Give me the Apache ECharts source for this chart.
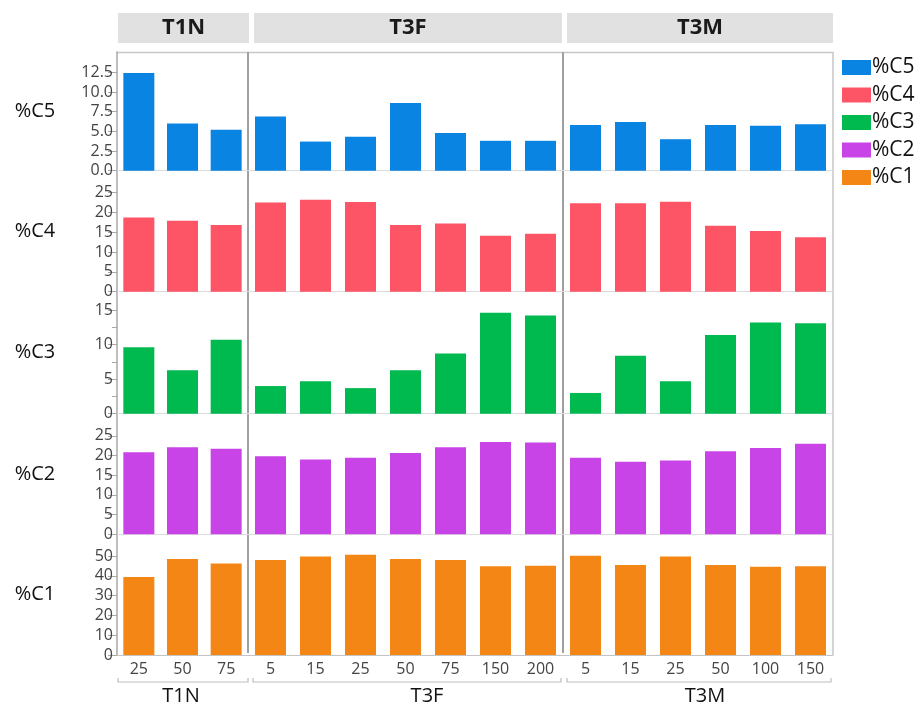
<!DOCTYPE html>
<html>
<head>
<meta charset="utf-8">
<script src="https://cdn.jsdelivr.net/npm/echarts@6/dist/echarts.min.js"></script>
<style>
  html, body { margin: 0; padding: 0; background: #fff; }
  #chart { width: 917px; height: 704px; }
</style>
</head>
<body>
<div id="chart"></div>
<script>
// Groups (panels) and the dose levels inside each one
const groups = ['T1N', 'T3F', 'T3M'];
const dosesT1N = ['25', '50', '75'];
const dosesT3F = ['5', '15', '25', '50', '75', '150', '200'];
const dosesT3M = ['5', '15', '25', '50', '100', '150'];

// Fractions, top row to bottom row
const fractions = ['%C5', '%C4', '%C3', '%C2', '%C1'];

const c5T1N = [12.4, 6.0, 5.2];
const c5T3F = [6.9, 3.7, 4.3, 8.6, 4.8, 3.8, 3.8];
const c5T3M = [5.8, 6.2, 4.0, 5.8, 5.7, 5.9];

const c4T1N = [18.7, 17.9, 16.8];
const c4T3F = [22.5, 23.2, 22.6, 16.8, 17.2, 14.1, 14.6];
const c4T3M = [22.3, 22.3, 22.7, 16.6, 15.3, 13.7];

const c3T1N = [9.6, 6.3, 10.7];
const c3T3F = [4.0, 4.7, 3.7, 6.3, 8.7, 14.6, 14.2];
const c3T3M = [3.0, 8.4, 4.7, 11.4, 13.2, 13.1];

const c2T1N = [20.8, 22.1, 21.7];
const c2T3F = [19.8, 19.0, 19.4, 20.6, 22.1, 23.4, 23.3];
const c2T3M = [19.4, 18.4, 18.7, 21.1, 21.9, 23.0];

const c1T1N = [39.4, 48.5, 46.3];
const c1T3F = [48.0, 49.8, 50.7, 48.5, 48.0, 44.8, 45.1];
const c1T3M = [50.2, 45.5, 49.8, 45.5, 44.6, 44.9];

// Tick labels of each row's value axis
const ticksC5 = [0, 2.5, 5, 7.5, 10, 12.5];
const ticksC4 = [0, 5, 10, 15, 20, 25];
const ticksC3 = [0, 5, 10, 15];
const minorTicksC3 = [2.5, 7.5, 12.5];
const ticksC2 = [0, 5, 10, 15, 20, 25];
const ticksC1 = [0, 10, 20, 30, 40, 50];

// Upper end of each row's value axis
const rowMax = [15.08, 30.5, 17.65, 30.6, 61];

// ---- assembly ----
const doses = [dosesT1N, dosesT3F, dosesT3M];
const values = [
  [c5T1N, c5T3F, c5T3M],
  [c4T1N, c4T3F, c4T3M],
  [c3T1N, c3T3F, c3T3M],
  [c2T1N, c2T3F, c2T3M],
  [c1T1N, c1T3F, c1T3M]
];
const rowTicks = [ticksC5, ticksC4, ticksC3, ticksC2, ticksC1];
const rowDecimals = [1, 0, 0, 0, 0];
const colors = ['#0984e3', '#fd5466', '#00b94f', '#c844e6', '#f38615'];

const FONT = "'Open Sans', 'Noto Sans', sans-serif";
const colEdges = [117, 248, 563, 833];
const rowEdges = [52, 170.7, 291.7, 413.7, 534.3, 655];

const grids = [], xAxes = [], yAxes = [], series = [];
for (let r = 0; r < 5; r++) {
  for (let p = 0; p < 3; p++) {
    const gi = r * 3 + p;
    grids.push({
      left: colEdges[p], width: colEdges[p + 1] - colEdges[p],
      top: rowEdges[r], height: rowEdges[r + 1] - rowEdges[r]
    });
    const bottom = r === 4;
    xAxes.push({
      type: 'category', gridIndex: gi, data: doses[p],
      axisLine: { show: true, lineStyle: { color: bottom ? '#c4c4c4' : '#dcdcdc', width: 1 } },
      axisTick: { show: false },
      axisLabel: {
        show: bottom, interval: 0, margin: 6, color: '#444',
        fontSize: 16, fontFamily: FONT
      }
    });
    const first = p === 0;
    const dec = rowDecimals[r];
    yAxes.push({
      type: 'value', gridIndex: gi, min: 0, max: rowMax[r],
      show: first,
      splitLine: { show: false },
      axisLine: { show: first, lineStyle: { color: '#a8a8a8', width: 1.5 } },
      axisTick: {
        show: first, length: 9, customValues: rowTicks[r],
        lineStyle: { color: '#a8a8a8' }
      },
      axisLabel: {
        show: first, customValues: rowTicks[r], margin: 4,
        color: '#444', fontSize: 16, fontFamily: FONT,
        formatter: v => Number(v).toFixed(dec)
      },
      name: first ? fractions[r] : '',
      nameLocation: 'middle', nameRotate: 0, nameGap: 82,
      nameTextStyle: { color: '#111', fontSize: 20, fontFamily: FONT, align: 'center', verticalAlign: 'middle' }
    });
    series.push({
      type: 'bar', name: fractions[r], xAxisIndex: gi, yAxisIndex: gi,
      data: values[r][p], barWidth: 31,
      itemStyle: { color: colors[r] },
      emphasis: { disabled: true },
      animation: false
    });
  }
}
// short minor ticks on the %C3 axis
yAxes.push({
  type: 'value', gridIndex: 6, min: 0, max: rowMax[2], position: 'left',
  splitLine: { show: false },
  axisLine: { show: false },
  axisTick: { show: true, length: 5, customValues: minorTicksC3, lineStyle: { color: '#a8a8a8' } },
  axisLabel: { show: false }
});

// panel headers, frame, dividers and group brackets
const graphic = [];
const headerBoxes = [[118, 249], [254, 562], [567, 833]];
headerBoxes.forEach((b, i) => {
  graphic.push({
    type: 'rect', shape: { x: b[0], y: 13, width: b[1] - b[0], height: 30 },
    style: { fill: '#e1e1e1' }, silent: true
  });
  graphic.push({
    type: 'text', x: (b[0] + b[1]) / 2, y: 28,
    style: {
      text: groups[i], fill: '#1a1a1a', font: 'bold 22px ' + FONT,
      textAlign: 'center', textVerticalAlign: 'middle'
    }, silent: true
  });
});
graphic.push({
  type: 'polyline', shape: { points: [[117, 52.5], [833, 52.5], [833, 655]] },
  style: { stroke: '#c8c8c8', lineWidth: 1.5, fill: null }, silent: true
});
[248, 563].forEach(x => {
  graphic.push({
    type: 'line', shape: { x1: x, y1: 52, x2: x, y2: 653 },
    style: { stroke: '#a0a0a0', lineWidth: 2 }, silent: true
  });
});
const brackets = [[118, 248], [253, 561], [567, 831]];
const groupLabelX = [181, 427, 705];
brackets.forEach((b, i) => {
  graphic.push({
    type: 'polyline',
    shape: { points: [[b[0], 678], [b[0], 682], [b[1], 682], [b[1], 678]] },
    style: { stroke: '#bdbdbd', lineWidth: 1.2, fill: null }, silent: true
  });
  graphic.push({
    type: 'text', x: groupLabelX[i], y: 696,
    style: {
      text: groups[i], fill: '#111', font: '20px ' + FONT,
      textAlign: 'center', textVerticalAlign: 'middle'
    }, silent: true
  });
});

const chart = echarts.init(document.getElementById('chart'), null, { renderer: 'canvas' });
chart.setOption({
  animation: false,
  backgroundColor: '#fff',
  grid: grids,
  xAxis: xAxes,
  yAxis: yAxes,
  series: series,
  legend: {
    data: fractions, orient: 'vertical', left: 842, top: 57,
    icon: 'rect', itemWidth: 29, itemHeight: 15, itemGap: 6.5, padding: 0,
    selectedMode: false,
    textStyle: { color: '#111', fontSize: 21, fontFamily: FONT, lineHeight: 15, padding: [0, 0, 0, -4] }
  },
  graphic: graphic
});
</script>
</body>
</html>
